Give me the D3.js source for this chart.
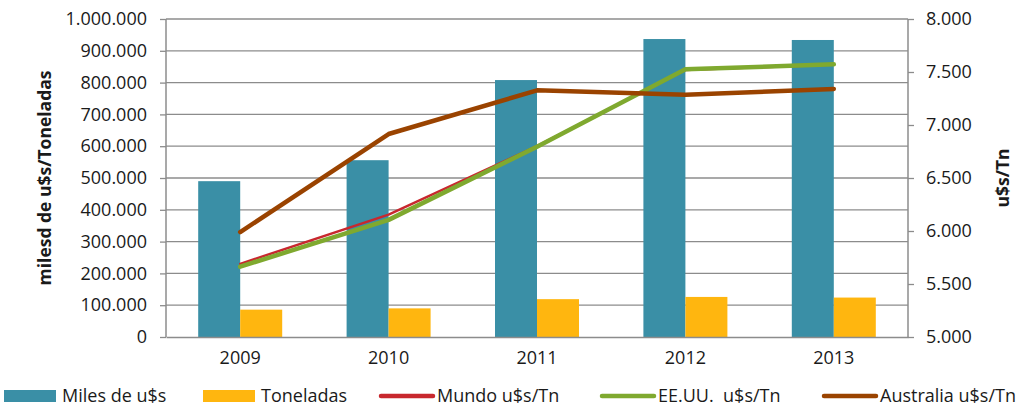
<!DOCTYPE html>
<html>
<head>
<meta charset="utf-8">
<script src="https://cdn.jsdelivr.net/npm/d3@7"></script>
<style>
  body { margin: 0; background: #fff; }
  svg text { font-family: "Open Sans", Lato, sans-serif; fill: #1a1a1a; }
</style>
</head>
<body>
<div id="chart"></div>
<script>
// data
var years = ["2009", "2010", "2011", "2012", "2013"];
var milesUss = [490000, 556000, 808000, 937000, 934000];
var toneladas = [86000, 90000, 119000, 126000, 124000];
var mundo = [5690, 6155, 6800, 7520, 7570];
var eeuu = [5663, 6105, 6795, 7525, 7572];
var australia = [5990, 6915, 7327, 7286, 7340];
var leftTicks = d3.range(0, 1000001, 100000);
var rightTicks = d3.range(5000, 8001, 500);

var fmt = function (v) { return d3.format(",")(v).replace(/,/g, "."); };

var W = 1027, H = 411;
var margin = {top: 19, right: 119, bottom: 74, left: 166};
var width = W - margin.left - margin.right;
var height = H - margin.top - margin.bottom;
var fontSize = 18;

var svg = d3.select("#chart").append("svg")
  .attr("width", W)
  .attr("height", H);

var g = svg.append("g")
  .attr("transform", "translate(" + margin.left + "," + margin.top + ")");

var x = d3.scaleBand().domain(years).range([0, width]);
var yL = d3.scaleLinear().domain([0, 1000000]).range([height, 0]);
var yR = d3.scaleLinear().domain([5000, 8000]).range([height, 0]);

var gridColor = "#8c8c8c";

// gridlines
g.append("g").selectAll("line").data(leftTicks.slice(1)).enter()
  .append("line")
  .attr("x1", 0).attr("x2", width)
  .attr("y1", function (d) { return yL(d); })
  .attr("y2", function (d) { return yL(d); })
  .attr("stroke", gridColor).attr("stroke-width", 1.3);

// bars
var barW = 42;
g.append("g").selectAll("rect").data(milesUss).enter()
  .append("rect")
  .attr("x", function (d, i) { return x(years[i]) + x.bandwidth() / 2 - barW; })
  .attr("y", function (d) { return yL(d); })
  .attr("width", barW)
  .attr("height", function (d) { return height - yL(d); })
  .attr("fill", "#3a8fa6");

g.append("g").selectAll("rect").data(toneladas).enter()
  .append("rect")
  .attr("x", function (d, i) { return x(years[i]) + x.bandwidth() / 2; })
  .attr("y", function (d) { return yL(d); })
  .attr("width", barW)
  .attr("height", function (d) { return height - yL(d); })
  .attr("fill", "#ffb60f");

// lines
var line = d3.line()
  .x(function (d, i) { return x(years[i]) + x.bandwidth() / 2; })
  .y(function (d) { return yR(d); });

var series = [
  {name: "Mundo u$s/Tn", data: mundo, color: "#c8282e", w: 2.5},
  {name: "EE.UU.  u$s/Tn", data: eeuu, color: "#7fa92f", w: 4.5},
  {name: "Australia u$s/Tn", data: australia, color: "#9a4300", w: 4.5}
];

series.forEach(function (s) {
  g.append("path")
    .datum(s.data)
    .attr("d", line)
    .attr("fill", "none")
    .attr("stroke", s.color)
    .attr("stroke-width", s.w)
    .attr("stroke-linecap", "round")
    .attr("stroke-linejoin", "round");
});

// axes
var axL = g.append("g")
  .call(d3.axisLeft(yL).tickValues(leftTicks).tickSize(6).tickPadding(13).tickFormat(fmt));
var axR = g.append("g")
  .attr("transform", "translate(" + width + ",0)")
  .call(d3.axisRight(yR).tickValues(rightTicks).tickSize(6).tickPadding(12).tickFormat(fmt));
var axB = g.append("g")
  .attr("transform", "translate(0," + height + ")")
  .call(d3.axisBottom(x).tickSize(0).tickPadding(14));

[axL, axR, axB].forEach(function (a) {
  a.select(".domain").attr("stroke", gridColor).attr("stroke-width", 1.5);
  a.selectAll(".tick line").attr("stroke", gridColor).attr("stroke-width", 1.3);
  a.selectAll("text").attr("font-size", fontSize).attr("fill", "#1a1a1a")
    .style("font-family", "'Open Sans', Lato, sans-serif");
});
axL.select(".domain").attr("d", "M0,0V" + height);
axR.select(".domain").attr("d", "M0,0V" + height);

// axis titles
svg.append("text")
  .attr("transform", "translate(51," + (margin.top + height / 2) + ") rotate(-90)")
  .attr("text-anchor", "middle")
  .attr("font-size", fontSize - 0.5)
  .attr("font-weight", "bold")
  .text("milesd de u$s/Toneladas");

svg.append("text")
  .attr("transform", "translate(1009," + (margin.top + height / 2) + ") rotate(-90)")
  .attr("text-anchor", "middle")
  .attr("font-size", fontSize - 0.5)
  .attr("font-weight", "bold")
  .text("u$s/Tn");

// legend
var legend = [
  {name: "Miles de u$s", color: "#3a8fa6", type: "rect", x: 4},
  {name: "Toneladas", color: "#ffb60f", type: "rect", x: 203},
  {name: series[0].name, color: series[0].color, type: "line", x: 379},
  {name: series[1].name, color: series[1].color, type: "line", x: 600},
  {name: series[2].name, color: series[2].color, type: "line", x: 822}
];
var lg = svg.append("g");
legend.forEach(function (d) {
  if (d.type === "rect") {
    lg.append("rect").attr("x", d.x).attr("y", 390).attr("width", 52).attr("height", 12).attr("fill", d.color);
  } else {
    lg.append("line").attr("x1", d.x + 2).attr("x2", d.x + 54).attr("y1", 396).attr("y2", 396)
      .attr("stroke", d.color).attr("stroke-width", 4.5).attr("stroke-linecap", "round");
  }
  lg.append("text").attr("x", d.x + 58).attr("y", 402).attr("font-size", fontSize)
    .style("white-space", "pre").text(d.name);
});
</script>
</body>
</html>
